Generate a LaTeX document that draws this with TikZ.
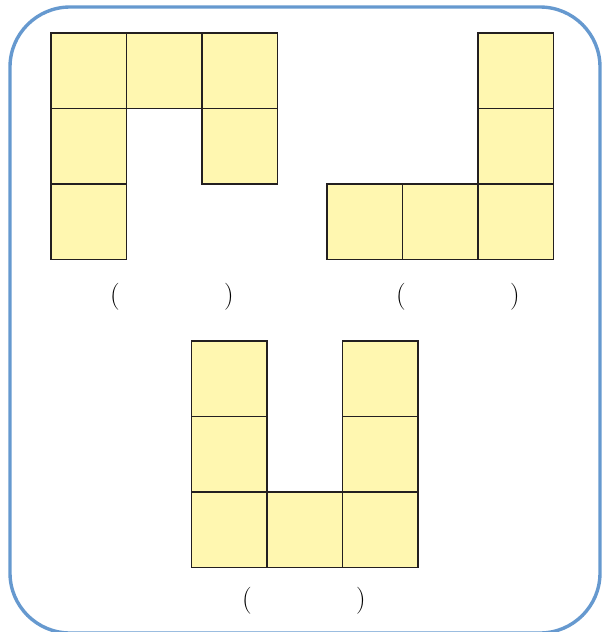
\documentclass[tikz,border=0pt]{standalone}
\usepackage{xcolor}
\definecolor{sqfill}{HTML}{FFF7B0}
\definecolor{sqline}{HTML}{231F20}
\definecolor{frameblue}{HTML}{6699CF}
\begin{document}
\begin{tikzpicture}[x=1pt,y=-1pt,
  sq/.style={draw=sqline,fill=sqfill,line width=1.6pt,minimum size=75.5pt,inner sep=0pt,anchor=north west,outer sep=0pt},
  paren/.style={font=\fontsize{27}{30}\selectfont,inner sep=0pt}]
\useasboundingbox (0,0) rectangle (605,632);
\draw[frameblue,line width=3.4pt,rounded corners=60pt] (10,7) rectangle (600,633);
% shape 1
\node[sq] (a1) at (51,33) {};
\node[sq] (a2) at (126.5,33) {};
\node[sq] (a3) at (202,33) {};
\node[sq] (a4) at (51,108.5) {};
\node[sq] (a5) at (202,108.5) {};
\node[sq] (a6) at (51,184) {};
% shape 2
\node[sq] (b1) at (478,33) {};
\node[sq] (b2) at (478,108.5) {};
\node[sq] (b3) at (327,184) {};
\node[sq] (b4) at (402.5,184) {};
\node[sq] (b5) at (478,184) {};
% shape 3
\node[sq] (c1) at (191.5,341) {};
\node[sq] (c2) at (342.5,341) {};
\node[sq] (c3) at (191.5,416.5) {};
\node[sq] (c4) at (342.5,416.5) {};
\node[sq] (c5) at (191.5,492) {};
\node[sq] (c6) at (267,492) {};
\node[sq] (c7) at (342.5,492) {};
% parentheses
\node[paren] (p1) at (115,297) {(};
\node[paren] (p2) at (229,297) {)};
\node[paren] (p3) at (401,297) {(};
\node[paren] (p4) at (515,297) {)};
\node[paren] (p5) at (247,601) {(};
\node[paren] (p6) at (361,601) {)};
\end{tikzpicture}
\end{document}
